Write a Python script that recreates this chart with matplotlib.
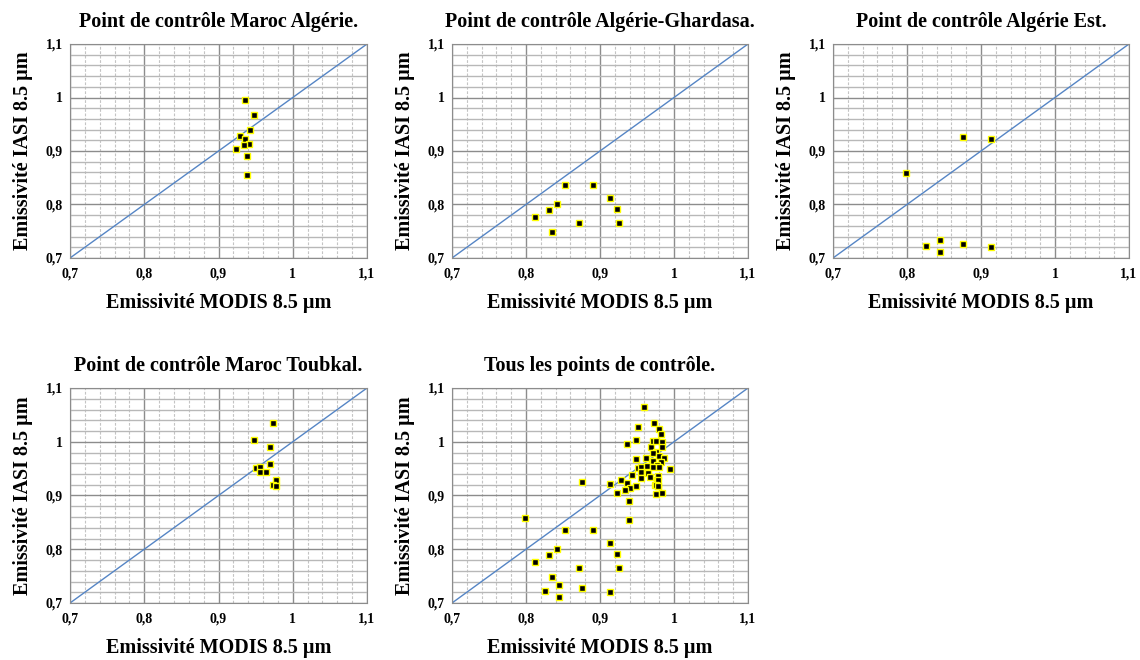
import matplotlib
matplotlib.use("Agg")
import matplotlib.pyplot as plt
from matplotlib.ticker import MultipleLocator, FuncFormatter

plt.rcParams['font.family'] = ['Liberation Serif', 'DejaVu Serif']
plt.rcParams['font.weight'] = 'bold'

# Emissivité MODIS (x) / IASI (y) par point de contrôle
maroc_algerie_x = [0.936, 0.948, 0.943, 0.929, 0.936, 0.941, 0.934, 0.923, 0.939, 0.939]
maroc_algerie_y = [0.995, 0.967, 0.939, 0.928, 0.923, 0.914, 0.911, 0.904, 0.890, 0.855]

ghardasa_x = [0.853, 0.890, 0.914, 0.842, 0.831, 0.923, 0.812, 0.871, 0.926, 0.835]
ghardasa_y = [0.836, 0.836, 0.812, 0.800, 0.790, 0.791, 0.777, 0.765, 0.765, 0.748]

algerie_est_x = [0.875, 0.913, 0.798, 0.844, 0.875, 0.826, 0.914, 0.844]
algerie_est_y = [0.926, 0.922, 0.858, 0.733, 0.727, 0.722, 0.721, 0.712]

toubkal_x = [0.973, 0.948, 0.969, 0.970, 0.951, 0.956, 0.956, 0.964, 0.977, 0.974, 0.978]
toubkal_y = [1.034, 1.003, 0.990, 0.959, 0.952, 0.953, 0.944, 0.943, 0.928, 0.919, 0.917]

# points supplémentaires visibles seulement dans le graphe global
autres_x = [0.960, 0.952, 0.980, 0.983, 0.972, 0.975, 0.984, 0.984, 0.975, 0.972,
            0.980, 0.962, 0.986, 0.972, 0.983, 0.977, 0.963, 0.972, 0.980, 0.995,
            0.965, 0.979, 0.956, 0.967, 0.978, 0.975, 0.979, 0.949, 0.976, 0.984]
autres_y = [1.065, 1.027, 1.023, 1.014, 1.001, 1.001, 1.000, 0.990, 0.981, 0.979,
            0.973, 0.969, 0.969, 0.964, 0.963, 0.957, 0.954, 0.953, 0.953, 0.950,
            0.942, 0.937, 0.933, 0.934, 0.928, 0.920, 0.917, 0.917, 0.903, 0.904]

tous_x = maroc_algerie_x + ghardasa_x + algerie_est_x + toubkal_x + autres_x
tous_y = maroc_algerie_y + ghardasa_y + algerie_est_y + toubkal_y + autres_y

panels = [
    ("Point de contrôle Maroc Algérie.", maroc_algerie_x, maroc_algerie_y, [70, 44, 367, 258]),
    ("Point de contrôle Algérie-Ghardasa.", ghardasa_x, ghardasa_y, [452, 44, 748, 258]),
    ("Point de contrôle Algérie Est.", algerie_est_x, algerie_est_y, [833, 44, 1129, 258]),
    ("Point de contrôle Maroc Toubkal.", toubkal_x, toubkal_y, [70, 388, 367, 603]),
    ("Tous les points de contrôle.", tous_x, tous_y, [452, 388, 748, 603]),
]

W, H = 1140, 660
fig = plt.figure(figsize=(W / 100, H / 100), dpi=100)


def fmt(v, pos):
    s = ('%.1f' % v).rstrip('0').rstrip('.')
    return s.replace('.', ',')


for title, xs, ys, (l, t, r, b) in panels:
    ax = fig.add_axes([l / W, (H - b) / H, (r - l) / W, (b - t) / H])
    ax.set_xlim(0.7, 1.1)
    ax.set_ylim(0.7, 1.1)
    ax.xaxis.set_major_locator(MultipleLocator(0.1))
    ax.yaxis.set_major_locator(MultipleLocator(0.1))
    ax.xaxis.set_minor_locator(MultipleLocator(0.02))
    ax.yaxis.set_minor_locator(MultipleLocator(0.02))
    ax.xaxis.set_major_formatter(FuncFormatter(fmt))
    ax.yaxis.set_major_formatter(FuncFormatter(fmt))
    ax.grid(which='major', color='#8c8c8c', lw=1.0)
    ax.grid(which='minor', axis='x', color='#c4c4c4', lw=0.8, ls=(0, (2.5, 1.5)))
    ax.grid(which='minor', axis='y', color='#b8b8b8', lw=1.0)
    ax.set_axisbelow(True)
    for sp in ax.spines.values():
        sp.set_color('#8c8c8c')
    ax.tick_params(which='both', length=0, labelsize=10)
    ax.tick_params(axis='x', pad=7)
    ax.tick_params(axis='y', pad=5)
    for lab in ax.get_xticklabels() + ax.get_yticklabels():
        lab.set_fontweight('bold')

    ax.plot([0.7, 1.1], [0.7, 1.1], color='#5585c5', lw=1.0, zorder=2)
    ax.plot(xs, ys, ls='none', marker='s', ms=4.8, color='black',
            mec='#ffff00', mew=1.0, zorder=3)

    ax.set_title(title, fontsize=14.5, fontweight='bold', pad=12)
    ax.set_xlabel("Emissivité MODIS 8.5 µm", fontsize=14.5, fontweight='bold', labelpad=9)
    ax.set_ylabel("Emissivité IASI 8.5 µm", fontsize=14.5, fontweight='bold', labelpad=9)

fig.savefig("out.png", dpi=100, facecolor='white')
